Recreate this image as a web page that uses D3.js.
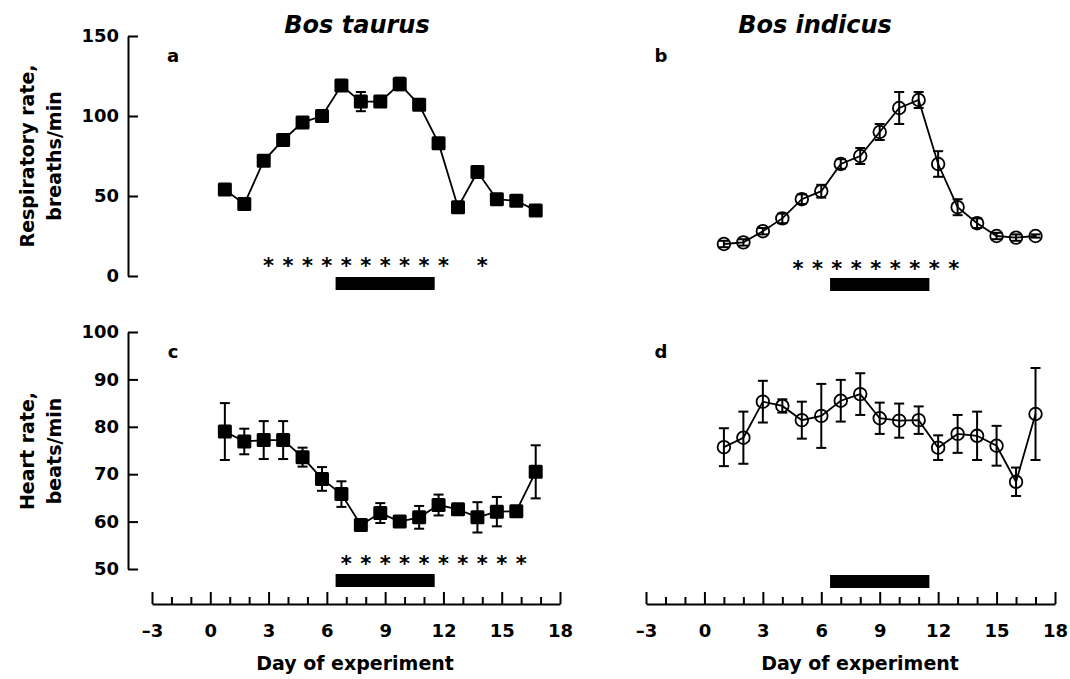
<!DOCTYPE html>
<html><head><meta charset="utf-8">
<script src="https://cdn.jsdelivr.net/npm/d3@7"></script>
<style>
body{margin:0;background:#fff}
svg{display:block}
text{font-family:"DejaVu Sans",sans-serif;font-weight:bold;fill:#000}
.tick text{font-size:18px}
</style>
</head><body>
<svg id="chart" width="1070" height="679"></svg>
<script>
// ---------- data ----------
const daysTaurus = [0.75,1.75,2.75,3.75,4.75,5.75,6.75,7.75,8.75,9.75,10.75,11.75,12.75,13.75,14.75,15.75,16.75];
const daysIndicus = [1,2,3,4,5,6,7,8,9,10,11,12,13,14,15,16,17];

const respTaurus   = [54,45,72,85,96,100,119,109,109,120,107,83,43,65,48,47,41];
const respTaurusSE = [2,2,2,2,2,2,2,6,3,4,3,2,3,2,2,2,1];
const respIndicus   = [20,21,28,36,48,53,70,75,90,105,110,70,43,33,25,24,25];
const respIndicusSE = [2,2,2,3,3,4,3,5,5,10,5,8,5,3,2,2,1];

const heartTaurus   = [79,76.9,77.2,77.2,73.6,69,65.8,59.3,61.8,60,60.9,63.5,62.6,60.9,62.1,62.2,70.5];
const heartTaurusSE = [6,2.7,4,4,2,2.5,2.7,0.8,2.1,1,2.4,2.2,0.8,3.2,3.1,0.5,5.6];
const heartIndicus   = [75.7,77.7,85.3,84.4,81.4,82.3,85.5,86.9,81.8,81.3,81.4,75.6,78.5,78.1,76.0,68.4,82.7];
const heartIndicusSE = [4.0,5.5,4.4,1.4,3.9,6.75,4.4,4.4,3.3,3.6,2.9,2.6,4.0,5.1,4.2,3.0,9.7];

const starsA = [3,4,5,6,7,8,9,10,11,12,14];
const starsB = [4.8,5.8,6.8,7.8,8.8,9.8,10.8,11.8,12.8];
const starsC = [7,8,9,10,11,12,13,14,15,16];
const heatPeriod = [6.45, 11.55];

const xMajorTicks = [-3,0,3,6,9,12,15,18];
const xMinorTicks = [-2,-1,1,2,4,5,7,8,10,11,13,14,16,17];
const respTicks = [0,50,100,150];
const heartTicks = [50,60,70,80,90,100];

const titles = ["Bos taurus","Bos indicus"];
const panelLetters = ["a","b","c","d"];

// ---------- scales ----------
const svg = d3.select("#chart");
const xL = d3.scaleLinear().domain([-3,18]).range([152,560]);
const xR = d3.scaleLinear().domain([-3,18]).range([646,1055]);
const yTop = d3.scaleLinear().domain([0,150]).range([276,36]);
const yBot = d3.scaleLinear().domain([50,100]).range([569,332]);

function styleAxis(g){
  g.attr("font-family",null).attr("font-size",null);
  g.selectAll("path,line").attr("stroke","#000").attr("stroke-width",2);
}

// y axes (left column only)
svg.append("g").attr("transform","translate(128,0)")
  .call(d3.axisLeft(yTop).tickValues(respTicks).tickSize(-10).tickSizeOuter(0).tickPadding(9))
  .call(styleAxis);
svg.append("g").attr("transform","translate(128,0)")
  .call(d3.axisLeft(yBot).tickValues(heartTicks).tickSize(-10).tickSizeOuter(0).tickPadding(9))
  .call(styleAxis);

// x axes
const fmt = d => d < 0 ? "\u2013" + Math.abs(d) : String(d);
[xL, xR].forEach(x => {
  svg.append("g").attr("transform","translate(0,604)")
    .call(d3.axisBottom(x).tickValues(xMajorTicks).tickSize(-12).tickSizeOuter(0).tickPadding(20).tickFormat(fmt))
    .call(styleAxis);
  const mg = svg.append("g").attr("transform","translate(0,604)")
    .call(d3.axisBottom(x).tickValues(xMinorTicks).tickSize(-7).tickFormat(""))
    .call(styleAxis);
  mg.select(".domain").remove();
});

// ---------- panels ----------
function panel(x, y, days, vals, se, marker, stars, starY, barTop){
  const g = svg.append("g");
  const pts = days.map((d,i)=>({d, v:vals[i], s:se[i]}));
  // heat bar
  g.append("rect")
    .attr("x", x(heatPeriod[0])).attr("width", x(heatPeriod[1]) - x(heatPeriod[0]))
    .attr("y", barTop).attr("height", 13).attr("fill","#000");
  // asterisks
  g.selectAll("text.star").data(stars).join("text").attr("class","star")
    .attr("x", d=>x(d)).attr("y", starY).attr("text-anchor","middle")
    .style("font-size","21px").style("font-weight","bold").text("*");
  // error bars
  const eb = g.selectAll("g.eb").data(pts).join("g").attr("class","eb")
    .attr("stroke","#000").attr("stroke-width",2);
  eb.append("line").attr("x1",p=>x(p.d)).attr("x2",p=>x(p.d))
    .attr("y1",p=>y(p.v-p.s)).attr("y2",p=>y(p.v+p.s));
  eb.append("line").attr("x1",p=>x(p.d)-5).attr("x2",p=>x(p.d)+5)
    .attr("y1",p=>y(p.v-p.s)).attr("y2",p=>y(p.v-p.s));
  eb.append("line").attr("x1",p=>x(p.d)-5).attr("x2",p=>x(p.d)+5)
    .attr("y1",p=>y(p.v+p.s)).attr("y2",p=>y(p.v+p.s));
  // line
  g.append("path").datum(pts)
    .attr("d", d3.line().x(p=>x(p.d)).y(p=>y(p.v)))
    .attr("fill","none").attr("stroke","#000").attr("stroke-width",1.8);
  // markers
  if (marker === "square") {
    g.selectAll("rect.m").data(pts).join("rect").attr("class","m")
      .attr("x",p=>x(p.d)-7).attr("y",p=>y(p.v)-7)
      .attr("width",14).attr("height",14).attr("rx",1.5).attr("fill","#000");
  } else {
    g.selectAll("circle.m").data(pts).join("circle").attr("class","m")
      .attr("cx",p=>x(p.d)).attr("cy",p=>y(p.v)).attr("r",6.3)
      .attr("fill","none").attr("stroke","#000").attr("stroke-width",1.8);
  }
}

panel(xL, yTop, daysTaurus, respTaurus, respTaurusSE, "square", starsA, 273, 277);
panel(xR, yTop, daysIndicus, respIndicus, respIndicusSE, "circle", starsB, 276, 278);
panel(xL, yBot, daysTaurus, heartTaurus, heartTaurusSE, "square", starsC, 571, 574);
panel(xR, yBot, daysIndicus, heartIndicus, heartIndicusSE, "circle", [], 0, 575);

// ---------- text ----------
svg.append("text").attr("x",357).attr("y",33).attr("text-anchor","middle")
  .style("font-size","24px").style("font-style","italic").text(titles[0]);
svg.append("text").attr("x",815).attr("y",33).attr("text-anchor","middle")
  .style("font-size","24px").style("font-style","italic").text(titles[1]);

const letterPos = [[173,62],[661,62],[173,358],[661,358]];
panelLetters.forEach((t,i)=>{
  svg.append("text").attr("x",letterPos[i][0]).attr("y",letterPos[i][1])
    .attr("text-anchor","middle").style("font-size","18px").text(t);
});

function yTitle(lines, cy){
  const xs = [34, 61];
  lines.forEach((t,i)=>{
    svg.append("text").attr("transform",`translate(${xs[i]},${cy}) rotate(-90)`)
      .attr("text-anchor","middle").style("font-size","19px").text(t);
  });
}
yTitle(["Respiratory rate,","breaths/min"], 156);
yTitle(["Heart rate,","beats/min"], 451);

svg.append("text").attr("x",355).attr("y",670).attr("text-anchor","middle")
  .style("font-size","19px").text("Day of experiment");
svg.append("text").attr("x",860).attr("y",670).attr("text-anchor","middle")
  .style("font-size","19px").text("Day of experiment");
</script>
</body></html>
